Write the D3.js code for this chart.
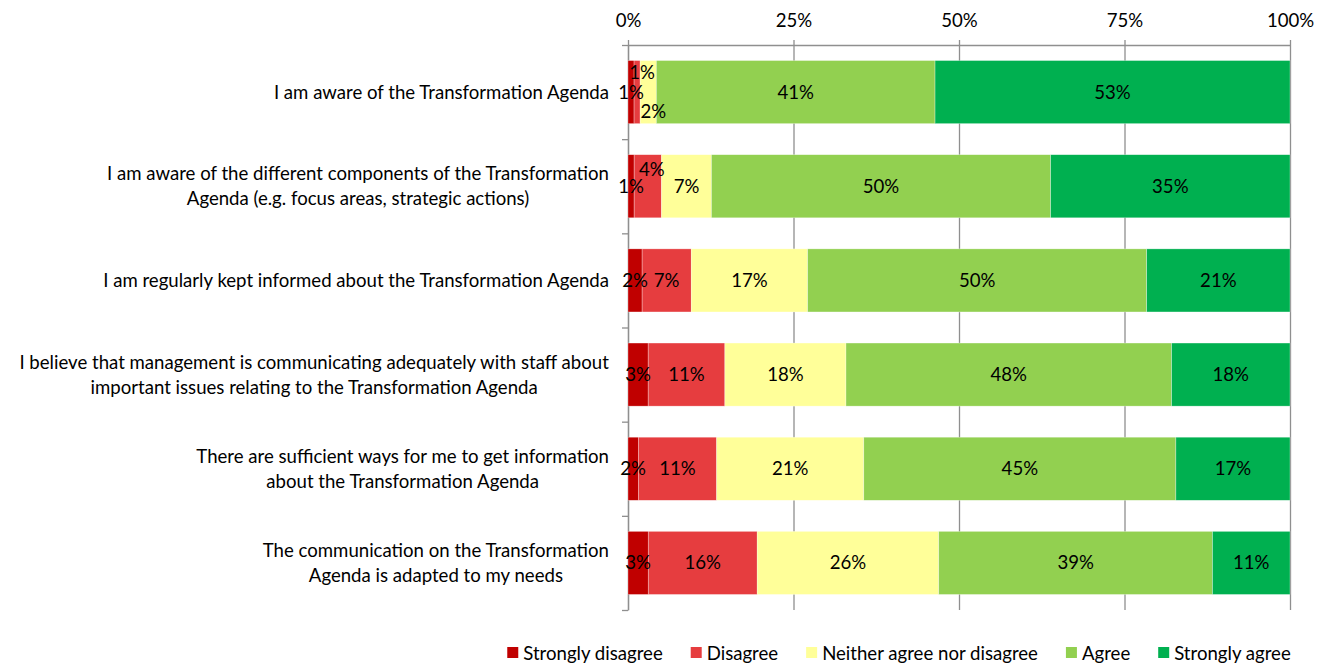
<!DOCTYPE html>
<html>
<head>
<meta charset="utf-8">
<script src="https://cdn.jsdelivr.net/npm/d3@7"></script>
<style>
  body { margin: 0; background: #fff; }
  text { font-family: Lato, "Open Sans", sans-serif; fill: #000; }
  .axis path, .axis line { stroke: #8f8f8f; stroke-width: 1.3; }
  .axis text { font-size: 18.6px; }
</style>
</head>
<body>
<svg id="chart" width="1326" height="668"></svg>
<script>
const categories = [
  "I am aware of the Transformation Agenda",
  "I am aware of the different components of the Transformation\nAgenda (e.g. focus areas, strategic actions)",
  "I am regularly kept informed about the Transformation Agenda",
  "I believe that management is communicating adequately with staff about\nimportant issues relating to the Transformation Agenda",
  "There are sufficient ways for me to get information\nabout the Transformation Agenda",
  "The communication on the Transformation\nAgenda is adapted to my needs"
];
const seriesNames = ["Strongly disagree", "Disagree", "Neither agree nor disagree", "Agree", "Strongly agree"];
const stronglyDisagree = [0.9, 0.9, 2.1, 3.0, 1.5, 2.9];
const disagree = [0.9, 4.0, 7.3, 11.4, 11.4, 15.6];
const neither = [2.4, 7.3, 17.3, 18.0, 21.4, 26.0];
const agree = [41.3, 49.6, 50.4, 48.4, 45.4, 39.2];
const stronglyAgree = [52.6, 35.0, 21.3, 17.6, 16.6, 11.1];
const tickValues = [0, 0.25, 0.5, 0.75, 1];

const colors = ["#c00000", "#e63d3f", "#ffff99", "#92d050", "#00b050"];

const plotLeft = 628, plotRight = 1290, plotTop = 45, plotBottom = 610;
const fontSize = "18.6px";

const rows = categories.map((c, i) => ({
  i: i,
  "Strongly disagree": stronglyDisagree[i],
  "Disagree": disagree[i],
  "Neither agree nor disagree": neither[i],
  "Agree": agree[i],
  "Strongly agree": stronglyAgree[i]
}));

const stacked = d3.stack()
  .keys(seriesNames)
  .offset(d3.stackOffsetExpand)(rows);

const svg = d3.select("#chart");

const x = d3.scaleLinear().domain([0, 1]).range([plotLeft, plotRight]);
const y = d3.scaleBand()
  .domain(d3.range(categories.length))
  .range([plotTop, plotBottom])
  .paddingInner(0.33)
  .paddingOuter(0.165);
const yEdges = d3.scaleLinear().domain([0, categories.length]).range([plotTop, plotBottom]);

// gridlines
svg.append("g")
  .attr("class", "axis")
  .attr("transform", `translate(0, ${plotTop})`)
  .call(d3.axisTop(x).tickValues(tickValues).tickSize(-(plotBottom - plotTop)).tickFormat(""))
  .call(g => g.select(".domain").remove());

// top axis
svg.append("g")
  .attr("class", "axis")
  .attr("transform", `translate(0, ${plotTop})`)
  .call(d3.axisTop(x).tickValues(tickValues).tickSize(5).tickSizeOuter(0).tickFormat(d3.format(".0%")))
  .call(g => g.selectAll("text").attr("dy", "-10"));

// left axis with ticks between categories
svg.append("g")
  .attr("class", "axis")
  .attr("transform", `translate(${plotLeft}, 0)`)
  .call(d3.axisLeft(yEdges).tickValues(d3.range(categories.length + 1)).tickSize(6).tickSizeOuter(0).tickFormat(""));

// bars
const series = svg.append("g")
  .selectAll("g")
  .data(stacked)
  .enter()
  .append("g")
  .attr("fill", (d, k) => colors[k]);

series.selectAll("rect")
  .data(d => d)
  .enter()
  .append("rect")
  .attr("x", d => x(d[0]))
  .attr("y", d => y(d.data.i))
  .attr("width", d => x(d[1]) - x(d[0]))
  .attr("height", y.bandwidth())
  .attr("stroke", "#fff")
  .attr("stroke-opacity", 0.5)
  .attr("stroke-width", 0.6);

// value labels, a few nudged apart where segments are tiny
const nudges = { "0|1": [5, -20], "0|2": [5, 19], "1|1": [4, -17] };
stacked.forEach((s, k) => {
  svg.append("g")
    .selectAll("text")
    .data(s)
    .enter()
    .append("text")
    .attr("x", d => x((d[0] + d[1]) / 2) + (nudges[d.data.i + "|" + k] || [0, 0])[0])
    .attr("y", d => y(d.data.i) + y.bandwidth() / 2 + (nudges[d.data.i + "|" + k] || [0, 0])[1])
    .attr("dy", "0.35em")
    .attr("text-anchor", "middle")
    .style("font-size", fontSize)
    .text(d => Math.round(d.data[s.key]) + "%");
});

// category labels
categories.forEach((c, i) => {
  const lines = c.split("\n");
  const t = svg.append("text")
    .style("font-size", fontSize)
    .attr("text-anchor", "middle");
  lines.forEach((ln, j) => {
    t.append("tspan")
      .attr("x", 0)
      .attr("y", y(i) + y.bandwidth() / 2 + (j - (lines.length - 1) / 2) * 25)
      .attr("dy", "0.35em")
      .text(ln);
  });
  const w = t.node().getBBox().width;
  t.selectAll("tspan").attr("x", 609 - w / 2);
});

// legend
const legend = svg.append("g");
let lx = 0;
seriesNames.forEach((name, k) => {
  const item = legend.append("g").attr("transform", `translate(${lx}, 0)`);
  item.append("rect")
    .attr("x", 0)
    .attr("y", -6)
    .attr("width", 11)
    .attr("height", 11)
    .attr("fill", colors[k]);
  const t = item.append("text")
    .attr("x", 16)
    .attr("y", 0)
    .attr("dy", "0.35em")
    .style("font-size", fontSize)
    .text(name);
  lx += 16 + t.node().getComputedTextLength() + 28;
});
const legendWidth = lx - 28;
legend.attr("transform", `translate(${899 - legendWidth / 2}, 653)`);
</script>
</body>
</html>
